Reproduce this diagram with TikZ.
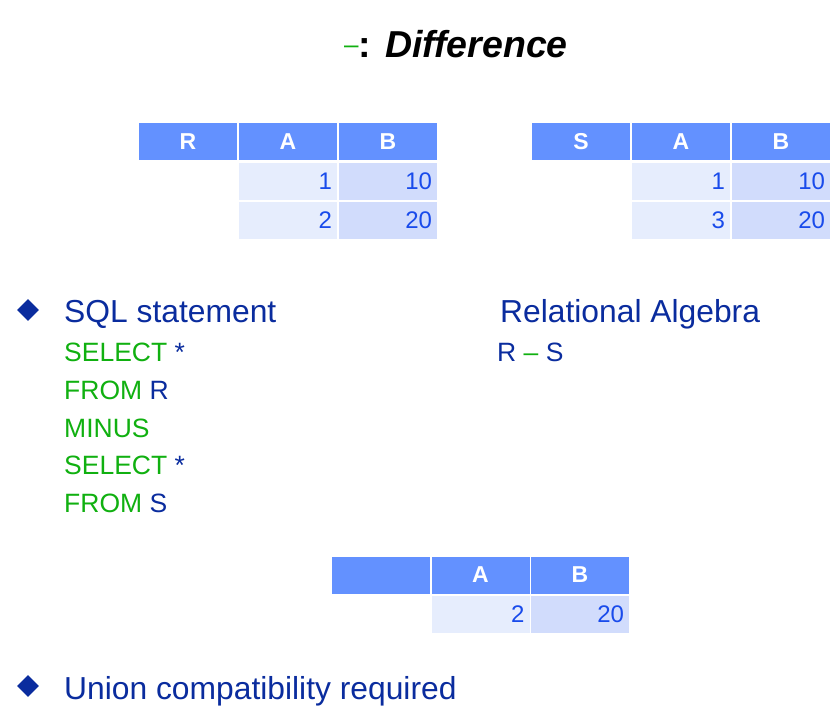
\documentclass[tikz,border=0pt]{standalone}
\usepackage{fontspec}
\setmainfont{Liberation Sans}
\usetikzlibrary{shapes.geometric}
\definecolor{headblue}{RGB}{99,145,255}
\definecolor{cellA}{RGB}{230,237,253}
\definecolor{cellB}{RGB}{209,220,252}
\definecolor{numblue}{RGB}{25,75,235}
\definecolor{navy}{RGB}{10,44,158}
\definecolor{sqlgreen}{RGB}{16,176,16}
\begin{document}
\begin{tikzpicture}[x=1pt,y=-1pt,
	hcell/.style={fill=headblue, text=white, font=\fontsize{23}{27}\selectfont\bfseries, minimum width=98pt, minimum height=37pt, inner sep=0pt},
	acell/.style={fill=cellA, text=numblue, font=\fontsize{24}{28}\selectfont, minimum height=37pt, text width=88pt, align=right, inner xsep=5pt, inner ysep=0pt},
	bcell/.style={acell, fill=cellB},
	big/.style={anchor=base west, text=navy, font=\fontsize{31.8}{36}\selectfont, inner sep=0pt},
	sql/.style={anchor=base west, text=sqlgreen, font=\fontsize{26.5}{30}\selectfont, inner sep=0pt},
	bullet/.style={fill=navy, diamond, minimum size=22pt, inner sep=0pt}]
	\useasboundingbox (0,0) rectangle (835,711);

	%Row centres of the two upper tables and of the result table
	\pgfmathsetmacro{\hy}{141.5}
	\pgfmathsetmacro{\ya}{181.5}
	\pgfmathsetmacro{\yb}{220.5}
	\pgfmathsetmacro{\hr}{575}
	\pgfmathsetmacro{\yr}{614.5}

	%Title
	\node[anchor=base west, inner sep=0pt, font=\fontsize{37.5}{42}\selectfont\bfseries] (title) at (344,58)
		{{\color{sqlgreen}\mdseries\fontsize{26}{26}\selectfont\raisebox{4pt}{–}}: \textit{Difference}};

	%Table R
	\node[hcell] (rR) at (188,\hy) {R};
	\node[hcell] (rA) at (288,\hy) {A};
	\node[hcell] (rB) at (388,\hy) {B};
	\node[acell] (r1a) at (288,\ya) {1};
	\node[bcell] (r1b) at (388,\ya) {10};
	\node[acell] (r2a) at (288,\yb) {2};
	\node[bcell] (r2b) at (388,\yb) {20};

	%Table S
	\node[hcell] (sS) at (581,\hy) {S};
	\node[hcell] (sA) at (681,\hy) {A};
	\node[hcell] (sB) at (781,\hy) {B};
	\node[acell] (s1a) at (681,\ya) {1};
	\node[bcell] (s1b) at (781,\ya) {10};
	\node[acell] (s2a) at (681,\yb) {3};
	\node[bcell] (s2b) at (781,\yb) {20};

	%SQL statement and relational algebra
	\node[bullet] (d1) at (28,310) {};
	\node[big] (sqlhead) at (64,323) {SQL statement};
	\node[sql] (q1) at (64,361.5) {SELECT {\color{navy}*}};
	\node[sql] (q2) at (64,399.5) {FROM {\color{navy}R}};
	\node[sql] (q3) at (64,437.5) {MINUS};
	\node[sql] (q4) at (64,474.5) {SELECT {\color{navy}*}};
	\node[sql] (q5) at (64,512.5) {FROM {\color{navy}S}};
	\node[big] (relhead) at (500,323) {Relational Algebra};
	\node[sql, text=navy] (rel) at (497,361.5) {R {\color{sqlgreen}–} S};

	%Result table
	\node[hcell] (tX) at (381,\hr) {};
	\node[hcell] (tA) at (480.5,\hr) {A};
	\node[hcell] (tB) at (580,\hr) {B};
	\node[acell] (t1a) at (480.5,\yr) {2};
	\node[bcell] (t1b) at (580,\yr) {20};

	%Last bullet
	\node[bullet] (d2) at (28,686) {};
	\node[big] (union) at (64,699) {Union compatibility required};
\end{tikzpicture}
\end{document}
